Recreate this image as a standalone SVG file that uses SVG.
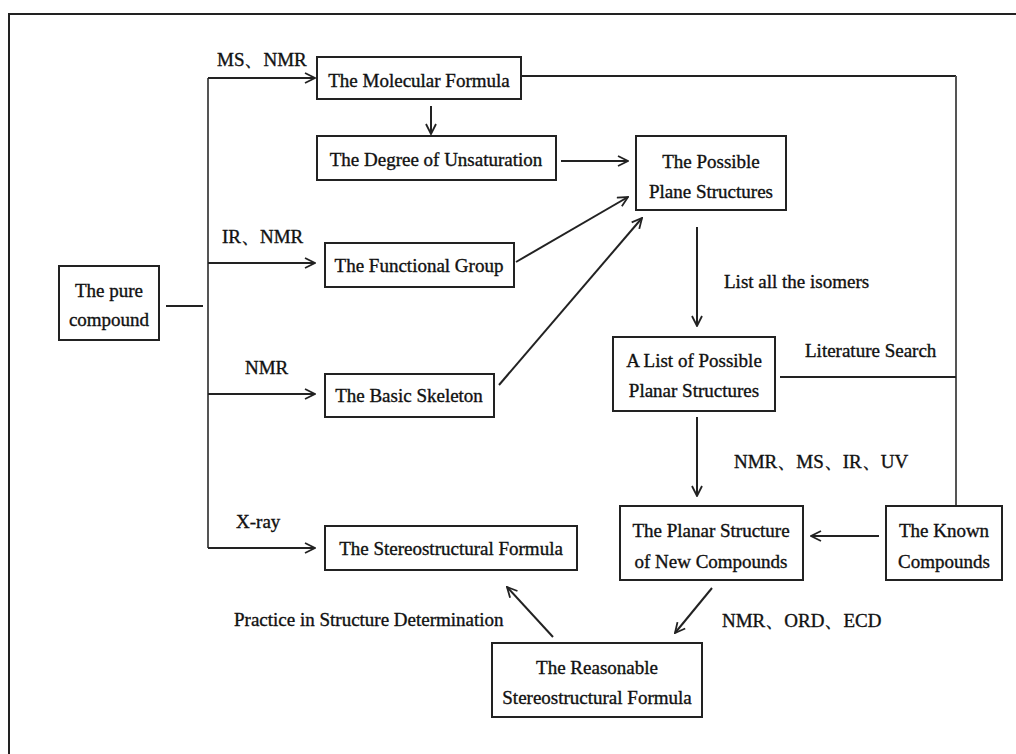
<svg xmlns="http://www.w3.org/2000/svg" width="1016" height="754" viewBox="0 0 1016 754">
<defs>
<marker id="ah" viewBox="0 0 12 12" refX="11" refY="6" markerWidth="12" markerHeight="12" markerUnits="userSpaceOnUse" orient="auto">
<path d="M1,1 L11,6 L1,11" fill="none" stroke="#222" stroke-width="1.8"/>
</marker>
<style>
.box{fill:#fff;stroke:#222;stroke-width:2}
.t{font-family:"Liberation Serif","Times New Roman",serif;font-size:19px;fill:#111;stroke:#111;stroke-width:0.35;text-anchor:middle}
.l{font-family:"Liberation Serif","Times New Roman",serif;font-size:19px;fill:#111;stroke:#111;stroke-width:0.35}
.c{fill:none;stroke:#222;stroke-width:2}
.g{fill:none;stroke:#555;stroke-width:2}
.a{fill:none;stroke:#222;stroke-width:2;marker-end:url(#ah)}
</style>
</defs>
<rect width="1016" height="754" fill="#fff"/>
<path d="M9,754 V14 H1016" fill="none" stroke="#222" stroke-width="2"/>

<g id="connectors">
<path class="g" d="M208,78 V548"/>
<path class="c" d="M166,306 H203"/>
<path class="a" d="M208,78 H315"/>
<path class="a" d="M208,263 H315"/>
<path class="a" d="M208,394 H315"/>
<path class="a" d="M208,548 H315"/>
<path class="a" d="M431,106 V134"/>
<path class="a" d="M561,161 H628"/>
<path class="a" d="M516,262 L628,197"/>
<path class="a" d="M499,385 L642,218"/>
<path class="a" d="M697,227 V326"/>
<path class="a" d="M697,417 V496"/>
<path class="c" d="M521,76 H956"/>
<path class="g" d="M956,76 V506"/>
<path class="c" d="M780,377 H956"/>
<path class="a" d="M879,536 H811"/>
<path class="a" d="M712,588 L675,633"/>
<path class="a" d="M553,637 L507,587"/>
</g>

<g id="label-ms-nmr"><text class="l" x="217" y="66">MS、NMR</text></g>
<g id="label-ir-nmr"><text class="l" x="222" y="243">IR、NMR</text></g>
<g id="label-nmr"><text class="l" x="245" y="374">NMR</text></g>
<g id="label-xray"><text class="l" x="236" y="528">X-ray</text></g>
<g id="label-isomers"><text class="l" x="724" y="288">List all the isomers</text></g>
<g id="label-literature"><text class="l" x="805" y="357">Literature Search</text></g>
<g id="label-nmr-ms-ir-uv"><text class="l" x="734" y="468">NMR、MS、IR、UV</text></g>
<g id="label-nmr-ord-ecd"><text class="l" x="722" y="627">NMR、ORD、ECD</text></g>
<g id="label-practice"><text class="l" x="234" y="626">Practice in Structure Determination</text></g>

<g id="pure-compound">
<rect class="box" x="59" y="266" width="100" height="74"/>
<text class="t" x="109" y="297">The pure</text>
<text class="t" x="109" y="326">compound</text>
</g>
<g id="molecular-formula">
<rect class="box" x="317" y="57" width="204" height="42"/>
<text class="t" x="419" y="87">The Molecular Formula</text>
</g>
<g id="degree-unsaturation">
<rect class="box" x="317" y="136" width="239" height="44"/>
<text class="t" x="436" y="166">The Degree of Unsaturation</text>
</g>
<g id="functional-group">
<rect class="box" x="325" y="243" width="189" height="44"/>
<text class="t" x="419" y="272">The Functional Group</text>
</g>
<g id="basic-skeleton">
<rect class="box" x="325" y="374" width="169" height="43"/>
<text class="t" x="409" y="402">The Basic Skeleton</text>
</g>
<g id="stereostructural-formula">
<rect class="box" x="325" y="526" width="252" height="44"/>
<text class="t" x="451" y="555">The Stereostructural Formula</text>
</g>
<g id="possible-plane">
<rect class="box" x="636" y="136" width="150" height="74"/>
<text class="t" x="711" y="168">The Possible</text>
<text class="t" x="711" y="198">Plane Structures</text>
</g>
<g id="list-planar">
<rect class="box" x="613" y="337" width="162" height="74"/>
<text class="t" x="694" y="367">A List of Possible</text>
<text class="t" x="694" y="397">Planar Structures</text>
</g>
<g id="planar-new">
<rect class="box" x="620" y="506" width="183" height="74"/>
<text class="t" x="711" y="537">The Planar Structure</text>
<text class="t" x="711" y="568">of New Compounds</text>
</g>
<g id="known-compounds">
<rect class="box" x="886" y="506" width="116" height="74"/>
<text class="t" x="944" y="537">The Known</text>
<text class="t" x="944" y="568">Compounds</text>
</g>
<g id="reasonable-stereo">
<rect class="box" x="492" y="643" width="210" height="74"/>
<text class="t" x="597" y="674">The Reasonable</text>
<text class="t" x="597" y="704">Stereostructural Formula</text>
</g>
</svg>
